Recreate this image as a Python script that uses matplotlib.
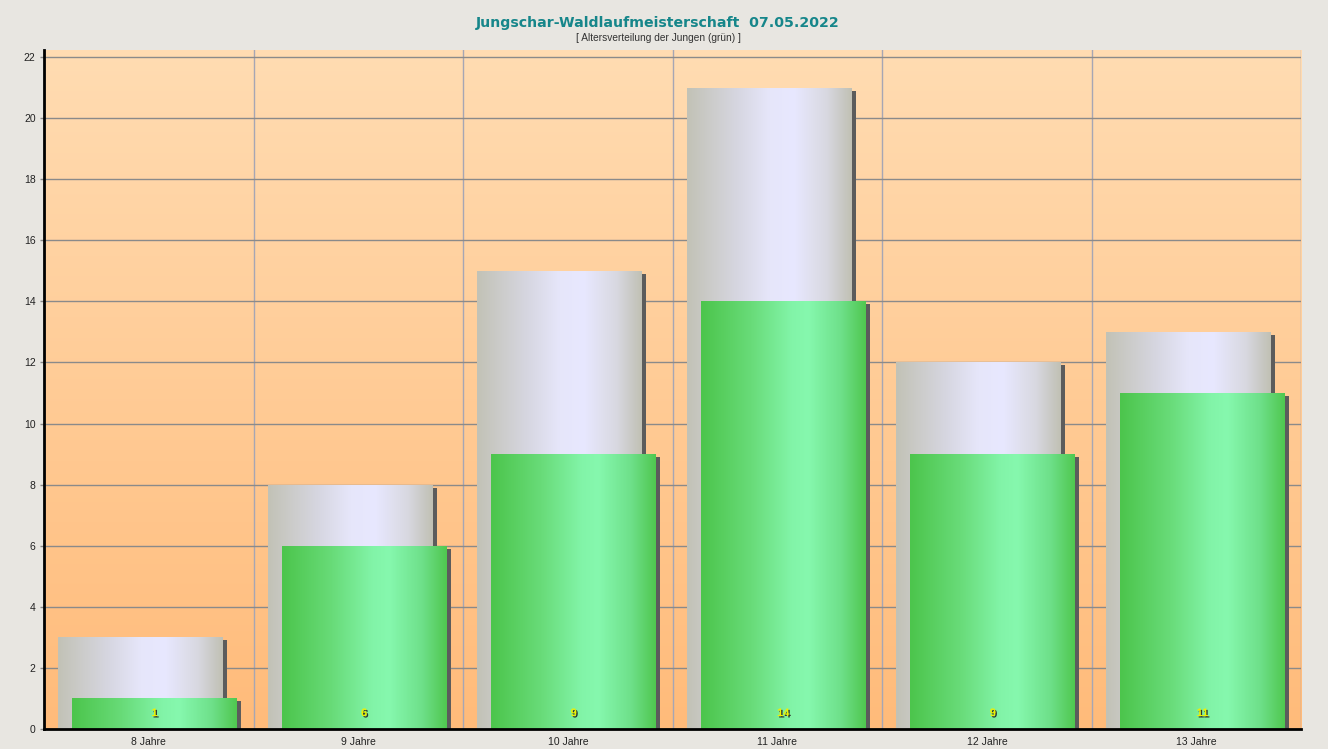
import numpy as np
import matplotlib
matplotlib.use("Agg")
import matplotlib.pyplot as plt
import matplotlib.patheffects as pe
from matplotlib.colors import LinearSegmentedColormap
from matplotlib.transforms import ScaledTranslation

plt.rcParams['font.family'] = ['Liberation Sans', 'DejaVu Sans']

categories = ["8 Jahre", "9 Jahre", "10 Jahre", "11 Jahre", "12 Jahre", "13 Jahre"]
total = [3, 8, 15, 21, 12, 13]      # alle Teilnehmer (grau)
jungen = [1, 6, 9, 14, 9, 11]       # Jungen (grün)

title = "Jungschar-Waldlaufmeisterschaft  07.05.2022"
subtitle = "[ Altersverteilung der Jungen (grün) ]"

bg = "#e8e6e1"
fig = plt.figure(figsize=(13.28, 7.49), dpi=100, facecolor=bg)
ax = fig.add_axes([0.0331, 0.0267, 0.9469, 0.9066])

x = np.arange(len(categories))
ax.set_xlim(0, len(categories))
ax.set_ylim(0, 22.23)

# Hintergrund: senkrechter Verlauf pfirsich -> orange
bg_cmap = LinearSegmentedColormap.from_list("bg", ["#ffbb7a", "#ffdcb2"])
ax.imshow(np.linspace(0, 1, 256).reshape(-1, 1)[::-1], cmap=bg_cmap,
          extent=[0, 1, 0, 1], transform=ax.transAxes, aspect="auto", zorder=0)

ax.set_yticks(np.arange(0, 23, 2))
ax.set_xticks(np.arange(0, len(categories) + 1), minor=False)
ax.set_xticklabels([])
ax.set_xticks(x + 0.5, minor=True)
ax.set_xticklabels(categories, minor=True)
ax.tick_params(axis="x", which="both", length=0, pad=6, labelsize=7.5, colors="#222222")
ax.tick_params(axis="y", length=3, width=1, color="#888888", pad=3, labelsize=7.5,
               labelcolor="#222222")
ax.grid(axis="y", color="#8a8a8a", linewidth=1, zorder=1)
ax.grid(axis="x", which="major", color="#a6a6b4", linewidth=1, zorder=1)
ax.set_axisbelow(True)

for s in ["top", "right"]:
    ax.spines[s].set_visible(False)
ax.spines["left"].set_linewidth(2)
ax.spines["bottom"].set_linewidth(2)
ax.spines["left"].set_zorder(10)
ax.spines["bottom"].set_zorder(10)

gray_cmap = LinearSegmentedColormap.from_list(
    "gray", [(0, "#c2c2b6"), (0.3, "#d6d6e0"), (0.5, "#e6e6fa"), (0.65, "#e8e8ff"),
             (0.85, "#d8d8e0"), (1, "#c0c0b4")])
green_cmap = LinearSegmentedColormap.from_list(
    "green", [(0, "#4cc54c"), (0.3, "#68db78"), (0.55, "#82f4a8"), (0.65, "#86f8ae"),
              (0.85, "#6ee08a"), (1, "#50c850")])
ramp = np.linspace(0, 1, 256).reshape(1, -1)

shadow_shift = ax.transData + ScaledTranslation(0.04, -0.03, fig.dpi_scale_trans)
w = 0.787


def gradient_bars(left, values, cmap, z):
    ax.bar(left, values, w, align="edge", color="#5c5c5c", zorder=z,
           transform=shadow_shift)
    bars = ax.bar(left, values, w, align="edge", color="none", linewidth=0,
                  zorder=z + 0.2)
    for b in bars:
        im = ax.imshow(ramp, cmap=cmap, aspect="auto", zorder=z + 0.1,
                       extent=[b.get_x(), b.get_x() + b.get_width(), 0, b.get_height()])
        im.set_clip_path(b)
    return bars


gradient_bars(x + 0.067, total, gray_cmap, 2)
green = gradient_bars(x + 0.134, jungen, green_cmap, 3)
ax.set_xlim(0, len(categories))
ax.set_ylim(0, 22.23)

for b, v in zip(green, jungen):
    ax.text(b.get_x() + b.get_width() / 2, 0.52, str(v), ha="center", va="center",
            fontsize=8, fontweight="bold", color="#f0f000", zorder=6,
            path_effects=[pe.withSimplePatchShadow(offset=(1, -1),
                                                   shadow_rgbFace="#222222", alpha=0.9)])

fig.text(0.4955, 0.969, title, ha="center", va="center", fontsize=10.2,
         fontweight="bold", color="#16868a", family="DejaVu Sans")
fig.text(0.4955, 0.949, subtitle, ha="center", va="center", fontsize=7.3,
         color="#333333")

fig.savefig("out.png", dpi=100, facecolor=bg)
